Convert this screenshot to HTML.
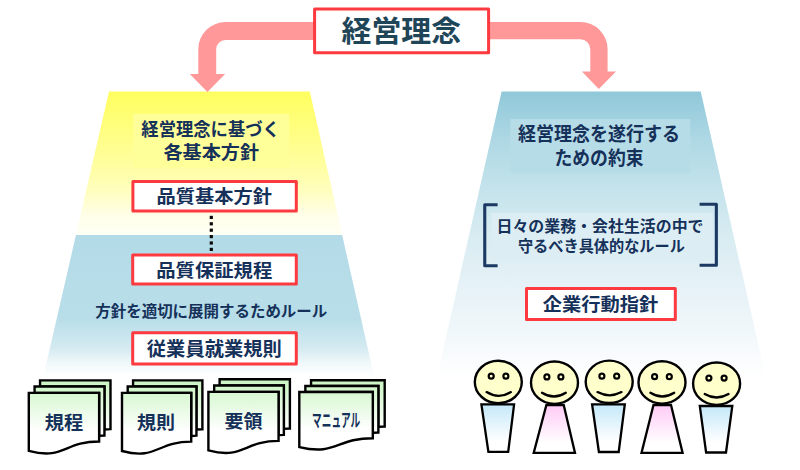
<!DOCTYPE html>
<html lang="ja">
<head>
<meta charset="utf-8">
<title>経営理念</title>
<style>
html,body{margin:0;padding:0;background:#fff;}
body{width:800px;height:470px;position:relative;overflow:hidden;font-family:"Liberation Sans","Noto Sans CJK JP",sans-serif;}
svg{position:absolute;left:0;top:0;display:block;}
svg text{font-family:"Liberation Sans","Noto Sans CJK JP",sans-serif;font-weight:bold;}
.t{position:absolute;color:transparent;white-space:nowrap;overflow:hidden;line-height:1;font-weight:bold;font-family:"Liberation Sans","Noto Sans CJK JP",sans-serif;}
</style>
</head>
<body>
<svg width="800" height="470" viewBox="0 0 800 470">
<defs>
<linearGradient id="gl" gradientUnits="userSpaceOnUse" x1="0" y1="91.7" x2="0" y2="376">
<stop offset="0" stop-color="#ffff60"/>
<stop offset="0.15" stop-color="#fffe84"/>
<stop offset="0.25" stop-color="#fffe9e"/>
<stop offset="0.35" stop-color="#fffebe"/>
<stop offset="0.43" stop-color="#fffee6"/>
<stop offset="0.47" stop-color="#fffff0"/>
<stop offset="0.504" stop-color="#fffff4"/>
<stop offset="0.504" stop-color="#b3dbe7"/>
<stop offset="0.80" stop-color="#b8dee9"/>
<stop offset="0.90" stop-color="#d4eaf1"/>
<stop offset="0.96" stop-color="#f2f9fb"/>
<stop offset="1" stop-color="#ffffff"/>
</linearGradient>
<linearGradient id="gr" gradientUnits="userSpaceOnUse" x1="0" y1="91.5" x2="0" y2="376">
<stop offset="0" stop-color="#90c8d9"/>
<stop offset="0.17" stop-color="#aed8e4"/>
<stop offset="0.31" stop-color="#c0e1ea"/>
<stop offset="0.487" stop-color="#d6ebf1"/>
<stop offset="0.66" stop-color="#e4f1f6"/>
<stop offset="0.84" stop-color="#f0f7fa"/>
<stop offset="1" stop-color="#ffffff"/>
</linearGradient>
<linearGradient id="gdoc" x1="0" y1="0" x2="0" y2="1">
<stop offset="0" stop-color="#c4f0bc"/>
<stop offset="0.45" stop-color="#ffffff"/>
<stop offset="1" stop-color="#ffffff"/>
</linearGradient>
<filter id="soft" x="-5%" y="-5%" width="110%" height="110%" color-interpolation-filters="sRGB"><feGaussianBlur stdDeviation="0.4"/></filter>
<linearGradient id="gm" x1="0" y1="0" x2="0" y2="1">
<stop offset="0" stop-color="#c4e8f9"/>
<stop offset="0.78" stop-color="#ffffff"/>
</linearGradient>
<linearGradient id="gf" x1="0" y1="0" x2="0" y2="1">
<stop offset="0" stop-color="#ffcaf6"/>
<stop offset="0.8" stop-color="#ffffff"/>
</linearGradient>
</defs>
<polygon points="109,91.6 309.8,91.6 374,376 43.5,376" fill="url(#gl)"/>
<polygon points="501.6,91.5 700.7,91.5 765.5,376 437.2,376" fill="url(#gr)"/>
<rect x="133.2" y="114" width="156.1" height="53.7" fill="#ffff99"/>
<rect x="510.3" y="119.1" width="180" height="54.1" fill="#b6dce7"/>
<rect x="491.3" y="212.8" width="221.6" height="47.7" fill="#dceef4"/>
<path fill="#ff9999" d="M314 22.1 H225.4 A27.1 27.1 0 0 0 198.3 49.2 V74 H189.8 L207.4 91.9 L225.1 74 H216.2 V49.2 A9.2 9.2 0 0 1 225.4 40 H314 Z"/>
<path fill="#ff9999" d="M489 22 H580.4 A27.2 27.2 0 0 1 607.6 49.2 V71.6 H616 L598.8 88.9 L581.9 71.6 H590.3 V49.2 A9.9 9.9 0 0 0 580.4 39.3 H489 Z"/>
<rect x="314.60" y="9.00" width="174.00" height="43.80" fill="#fff" stroke="#fc3a40" stroke-width="3" stroke-linejoin="round"/>
<rect x="132.90" y="181.60" width="163.40" height="29.30" fill="#fff" stroke="#fc3a40" stroke-width="3" stroke-linejoin="round"/>
<rect x="132.70" y="255.00" width="163.60" height="29.00" fill="#fff" stroke="#fc3a40" stroke-width="3" stroke-linejoin="round"/>
<rect x="132.70" y="332.80" width="163.60" height="31.20" fill="#fff" stroke="#fc3a40" stroke-width="3" stroke-linejoin="round"/>
<rect x="526.50" y="288.50" width="148.80" height="31.00" fill="#fff" stroke="#fc3a40" stroke-width="3" stroke-linejoin="round"/>
<rect x="209.7" y="215.8" width="3.2" height="3.2" fill="#0a0a0a"/>
<rect x="209.7" y="222.2" width="3.2" height="3.2" fill="#0a0a0a"/>
<rect x="209.7" y="228.6" width="3.2" height="3.2" fill="#0a0a0a"/>
<rect x="209.7" y="235.0" width="3.2" height="3.2" fill="#0a0a0a"/>
<rect x="209.7" y="241.4" width="3.2" height="3.2" fill="#0a0a0a"/>
<rect x="209.7" y="247.8" width="3.2" height="3.2" fill="#0a0a0a"/>
<linearGradient id="gd1" gradientUnits="userSpaceOnUse" x1="0" y1="380.4" x2="0" y2="453.6"><stop offset="0" stop-color="#caf5c2"/><stop offset="0.7" stop-color="#ffffff"/></linearGradient>
<g stroke="#000" stroke-width="2.4" stroke-linejoin="miter" fill="url(#gd1)">
<path d="M40.04 386.55 V380.40 H110.50 V429.17 C107.47 429.17 104.45 429.43 104.45 429.43 V386.55 Z"/>
<path d="M34.59 392.85 V386.55 H104.45 V435.48 C101.79 435.48 99.13 435.82 99.13 435.82 V392.85 Z"/>
<path d="M28.80 450.83 C63.97 460.18 63.97 441.47 99.13 441.47 V392.85 H28.80 Z"/>
</g>
<linearGradient id="gd2" gradientUnits="userSpaceOnUse" x1="0" y1="380.4" x2="0" y2="453.8"><stop offset="0" stop-color="#caf5c2"/><stop offset="0.7" stop-color="#ffffff"/></linearGradient>
<g stroke="#000" stroke-width="2.4" stroke-linejoin="miter" fill="url(#gd2)">
<path d="M133.06 386.57 V380.40 H202.40 V429.31 C199.42 429.31 196.44 429.56 196.44 429.56 V386.57 Z"/>
<path d="M127.70 392.89 V386.57 H196.44 V435.63 C193.83 435.63 191.21 435.97 191.21 435.97 V392.89 Z"/>
<path d="M122.00 451.02 C156.61 460.40 156.61 441.64 191.21 441.64 V392.89 H122.00 Z"/>
</g>
<linearGradient id="gd3" gradientUnits="userSpaceOnUse" x1="0" y1="379.3" x2="0" y2="453.1"><stop offset="0" stop-color="#caf5c2"/><stop offset="0.7" stop-color="#ffffff"/></linearGradient>
<g stroke="#000" stroke-width="2.4" stroke-linejoin="miter" fill="url(#gd3)">
<path d="M219.61 385.50 V379.30 H289.90 V428.47 C286.88 428.47 283.86 428.73 283.86 428.73 V385.50 Z"/>
<path d="M214.18 391.86 V385.50 H283.86 V434.83 C281.21 434.83 278.56 435.17 278.56 435.17 V391.86 Z"/>
<path d="M208.40 450.31 C243.48 459.74 243.48 440.88 278.56 440.88 V391.86 H208.40 Z"/>
</g>
<linearGradient id="gd4" gradientUnits="userSpaceOnUse" x1="0" y1="380.2" x2="0" y2="449.7"><stop offset="0" stop-color="#caf5c2"/><stop offset="0.7" stop-color="#ffffff"/></linearGradient>
<g stroke="#000" stroke-width="2.4" stroke-linejoin="miter" fill="url(#gd4)">
<path d="M311.05 386.04 V380.20 H384.70 V426.51 C381.54 426.51 378.37 426.75 378.37 426.75 V386.04 Z"/>
<path d="M305.36 392.02 V386.04 H378.37 V432.49 C375.60 432.49 372.82 432.81 372.82 432.81 V392.02 Z"/>
<path d="M299.30 447.07 C336.06 455.95 336.06 438.19 372.82 438.19 V392.02 H299.30 Z"/>
</g>
<g>
<text x="341.55" y="42.23" font-size="29" fill="#1f4658" textLength="119.5" lengthAdjust="spacingAndGlyphs">経営理念</text>
<text x="141.33" y="136.42" font-size="18.1" fill="#15315a" textLength="138.6" lengthAdjust="spacingAndGlyphs">経営理念に基づく</text>
<text x="163.49" y="159.44" font-size="18.3" fill="#15315a" textLength="95.5" lengthAdjust="spacingAndGlyphs">各基本方針</text>
<text x="156.57" y="203.26" font-size="18" fill="#15315a" textLength="115.5" lengthAdjust="spacingAndGlyphs">品質基本方針</text>
<text x="156.27" y="276.84" font-size="17.8" fill="#15315a" textLength="116" lengthAdjust="spacingAndGlyphs">品質保証規程</text>
<text x="95.28" y="316.74" font-size="15.4" fill="#15315a" textLength="232" lengthAdjust="spacingAndGlyphs">方針を適切に展開するためルール</text>
<text x="146.82" y="355.61" font-size="19" fill="#15315a" textLength="135" lengthAdjust="spacingAndGlyphs">従業員就業規則</text>
<text x="44.74" y="428.75" font-size="18.2" fill="#15315a" textLength="38.5" lengthAdjust="spacingAndGlyphs">規程</text>
<text x="137.14" y="429.13" font-size="18" fill="#15315a" textLength="38" lengthAdjust="spacingAndGlyphs">規則</text>
<text x="224.43" y="427.97" font-size="17.8" fill="#15315a" textLength="38" lengthAdjust="spacingAndGlyphs">要領</text>
<text x="312.11" y="427.39" font-size="18" fill="#15315a" textLength="48" lengthAdjust="spacingAndGlyphs">マニュアル</text>
<text x="517.92" y="141.43" font-size="19.1" fill="#15315a" textLength="162" lengthAdjust="spacingAndGlyphs">経営理念を遂行する</text>
<text x="554.51" y="164.93" font-size="19.4" fill="#15315a" textLength="89" lengthAdjust="spacingAndGlyphs">ための約束</text>
<text x="496.52" y="231.90" font-size="15.6" fill="#15315a" textLength="207" lengthAdjust="spacingAndGlyphs">日々の業務・会社生活の中で</text>
<text x="517.92" y="251.83" font-size="15.4" fill="#15315a" textLength="167" lengthAdjust="spacingAndGlyphs">守るべき具体的なルール</text>
<text x="542.80" y="311.12" font-size="18.4" fill="#15315a" textLength="115.5" lengthAdjust="spacingAndGlyphs">企業行動指針</text>
</g>
<path fill="none" stroke="#1b3962" stroke-width="3.1" stroke-linejoin="round" d="M497.6 204.75 H484.75 V265.75 H497.6"/>
<path fill="none" stroke="#1b3962" stroke-width="3.1" stroke-linejoin="round" d="M699.6 204.3 H716.35 V265.3 H699.6"/>
<polygon points="481.40,404.30 514.10,404.30 508.20,451.90 488.40,451.90" fill="url(#gm)" stroke="#000" stroke-width="2.3" stroke-linejoin="miter"/>
<polygon points="546.40,405.00 563.70,405.00 575.00,452.90 533.70,452.90" fill="url(#gf)" stroke="#000" stroke-width="2.3" stroke-linejoin="miter"/>
<polygon points="592.10,404.40 624.80,404.40 618.70,452.00 598.90,452.00" fill="url(#gm)" stroke="#000" stroke-width="2.3" stroke-linejoin="miter"/>
<polygon points="653.50,405.00 671.00,405.00 682.60,452.90 641.50,452.90" fill="url(#gf)" stroke="#000" stroke-width="2.3" stroke-linejoin="miter"/>
<polygon points="699.80,406.00 732.30,406.00 726.00,452.50 706.10,452.50" fill="url(#gm)" stroke="#000" stroke-width="2.3" stroke-linejoin="miter"/>
<ellipse cx="498.30" cy="382.00" rx="23.5" ry="21.2" fill="#ffffcc" stroke="#000" stroke-width="2.4"/>
<circle cx="491.20" cy="376.20" r="2.5" fill="#ffffcc" stroke="#000" stroke-width="2.2"/>
<circle cx="505.90" cy="376.20" r="2.5" fill="#ffffcc" stroke="#000" stroke-width="2.2"/>
<path d="M486.60 392.10 Q498.70 399.50 510.80 392.10" fill="none" stroke="#000" stroke-width="2.3" stroke-linecap="round"/>
<ellipse cx="554.50" cy="382.70" rx="23.5" ry="21.2" fill="#ffffcc" stroke="#000" stroke-width="2.4"/>
<circle cx="546.90" cy="376.90" r="2.5" fill="#ffffcc" stroke="#000" stroke-width="2.2"/>
<circle cx="560.90" cy="376.90" r="2.5" fill="#ffffcc" stroke="#000" stroke-width="2.2"/>
<path d="M542.00 392.80 Q553.90 400.20 565.80 392.80" fill="none" stroke="#000" stroke-width="2.3" stroke-linecap="round"/>
<ellipse cx="609.20" cy="381.80" rx="23.5" ry="21.2" fill="#ffffcc" stroke="#000" stroke-width="2.4"/>
<circle cx="601.90" cy="376.20" r="2.5" fill="#ffffcc" stroke="#000" stroke-width="2.2"/>
<circle cx="616.70" cy="376.20" r="2.5" fill="#ffffcc" stroke="#000" stroke-width="2.2"/>
<path d="M597.50 392.10 Q609.50 398.50 621.50 392.10" fill="none" stroke="#000" stroke-width="2.3" stroke-linecap="round"/>
<ellipse cx="662.00" cy="382.40" rx="23.5" ry="21.2" fill="#ffffcc" stroke="#000" stroke-width="2.4"/>
<circle cx="654.60" cy="376.70" r="2.5" fill="#ffffcc" stroke="#000" stroke-width="2.2"/>
<circle cx="669.30" cy="376.70" r="2.5" fill="#ffffcc" stroke="#000" stroke-width="2.2"/>
<path d="M650.40 392.80 Q662.30 400.20 674.20 392.80" fill="none" stroke="#000" stroke-width="2.3" stroke-linecap="round"/>
<ellipse cx="716.60" cy="383.70" rx="23.5" ry="21.2" fill="#ffffcc" stroke="#000" stroke-width="2.4"/>
<circle cx="708.90" cy="378.10" r="2.5" fill="#ffffcc" stroke="#000" stroke-width="2.2"/>
<circle cx="724.10" cy="378.10" r="2.5" fill="#ffffcc" stroke="#000" stroke-width="2.2"/>
<path d="M704.70 394.00 Q716.60 401.00 728.50 394.00" fill="none" stroke="#000" stroke-width="2.3" stroke-linecap="round"/>
</svg>
<div class="t" style="left:341.9px;top:17.6px;width:119.4px;height:27.4px;font-size:28.8px">経営理念</div>
<div class="t" style="left:141.5px;top:121.0px;width:138.6px;height:17.2px;font-size:18.1px">経営理念に基づく</div>
<div class="t" style="left:163.8px;top:143.9px;width:95.3px;height:17.4px;font-size:18.3px">各基本方針</div>
<div class="t" style="left:157.8px;top:188.0px;width:114.1px;height:17.1px;font-size:18.0px">品質基本方針</div>
<div class="t" style="left:157.5px;top:261.8px;width:114.5px;height:16.8px;font-size:17.6px">品質保証規程</div>
<div class="t" style="left:95.5px;top:303.7px;width:231.8px;height:14.7px;font-size:15.4px">方針を適切に展開するためルール</div>
<div class="t" style="left:147.0px;top:339.5px;width:134.0px;height:18.0px;font-size:18.9px">従業員就業規則</div>
<div class="t" style="left:45.1px;top:413.5px;width:37.9px;height:17.0px;font-size:17.9px">規程</div>
<div class="t" style="left:137.5px;top:414.0px;width:37.1px;height:16.9px;font-size:17.7px">規則</div>
<div class="t" style="left:225.1px;top:412.9px;width:37.5px;height:16.9px;font-size:17.7px">要領</div>
<div class="t" style="left:312.9px;top:413.3px;width:47.5px;height:15.4px;font-size:16.2px">マニュアル</div>
<div class="t" style="left:518.1px;top:125.1px;width:161.9px;height:18.2px;font-size:19.1px">経営理念を遂行する</div>
<div class="t" style="left:556.0px;top:148.3px;width:87.9px;height:18.5px;font-size:19.4px">ための約束</div>
<div class="t" style="left:498.9px;top:218.6px;width:205.0px;height:14.9px;font-size:15.6px">日々の業務・会社生活の中で</div>
<div class="t" style="left:518.6px;top:238.7px;width:166.6px;height:14.7px;font-size:15.4px">守るべき具体的なルール</div>
<div class="t" style="left:543.0px;top:295.5px;width:115.0px;height:17.5px;font-size:18.4px">企業行動指針</div>
</body>
</html>
